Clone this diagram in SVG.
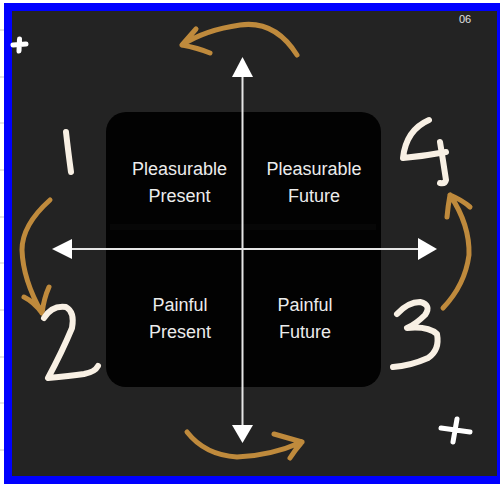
<svg xmlns="http://www.w3.org/2000/svg" width="500" height="484" viewBox="0 0 500 484">
<defs>
<style>
.lbl{font-family:"Liberation Sans",Arial,sans-serif;font-size:18px;fill:#ececec;text-anchor:middle}
.gold{fill:none;stroke:#bf8a3c;stroke-width:5;stroke-linecap:round;stroke-linejoin:round}
.hand{fill:none;stroke:#f8f0e4;stroke-width:6;stroke-linecap:round;stroke-linejoin:round}
.plus{fill:none;stroke:#ffffff;stroke-width:5;stroke-linecap:round}
.axis{stroke:#e6e6e6;stroke-width:2;fill:none}
.tip{fill:#ffffff}
.grid{stroke:#c8c8c8;stroke-width:1}
</style>
</defs>
<rect x="0" y="0" width="500" height="484" fill="#ffffff"/>
<g id="page-grid">
<line class="grid" x1="0" y1="30" x2="4" y2="30"/>
<line class="grid" x1="0" y1="77" x2="4" y2="77"/>
<line class="grid" x1="0" y1="123" x2="4" y2="123"/>
<line class="grid" x1="0" y1="170" x2="4" y2="170"/>
<line class="grid" x1="0" y1="217" x2="4" y2="217"/>
<line class="grid" x1="0" y1="263" x2="4" y2="263"/>
<line class="grid" x1="0" y1="310" x2="4" y2="310"/>
<line class="grid" x1="0" y1="357" x2="4" y2="357"/>
<line class="grid" x1="0" y1="403" x2="4" y2="403"/>
<line class="grid" x1="0" y1="450" x2="4" y2="450"/>
</g>
<rect x="4" y="3" width="496" height="481" fill="#0000ff"/>
<rect x="12" y="11" width="485" height="465" fill="#232323"/>
<text x="465" y="23" font-family="Liberation Sans,Arial,sans-serif" font-size="11" fill="#e0e0e0" text-anchor="middle">06</text>

<g id="quadrant-box">
<rect x="106" y="112" width="275" height="275" rx="20" fill="#020202"/>
<rect x="110" y="224" width="266" height="6" fill="#070707"/>
</g>

<g id="connectors">
<line class="axis" x1="242.5" y1="75" x2="242.5" y2="427"/>
<polygon class="tip" points="242.5,57 253,77 232,77"/>
<polygon class="tip" points="242.5,443 253,425 232,425"/>
<line class="axis" x1="70" y1="249" x2="420" y2="249"/>
<polygon class="tip" points="52,249 72,239 72,259"/>
<polygon class="tip" points="437,249 418,238 418,260"/>
<path class="gold" d="M297,55 Q275,20 240,25 Q205,30 182,45 M182,45 L196,29 M182,45 Q198,48 210,53"/>
<path class="gold" d="M50,200 Q22,225 22,250 Q23,280 42,313 M42,313 Q34,302 24,297 M42,313 Q44,298 49,287"/>
<path class="gold" d="M443,308 Q465,285 469,255 Q470,225 450,195 M450,195 Q448,206 447,217 M450,195 Q462,200 470,207"/>
<path class="gold" d="M187,432 Q205,455 237,457 Q270,456 302,442 M302,442 L274,434 M302,442 Q295,450 290,458"/>
</g>

<g id="q-pleasurable-present">
<text class="lbl" x="179.5" y="175">Pleasurable</text>
<text class="lbl" x="179.5" y="202">Present</text>
</g>
<g id="q-pleasurable-future">
<text class="lbl" x="314" y="175">Pleasurable</text>
<text class="lbl" x="314" y="202">Future</text>
</g>
<g id="q-painful-present">
<text class="lbl" x="180" y="311">Painful</text>
<text class="lbl" x="180" y="338">Present</text>
</g>
<g id="q-painful-future">
<text class="lbl" x="305" y="311">Painful</text>
<text class="lbl" x="305" y="338">Future</text>
</g>

<g id="num-1"><path class="hand" d="M66,132 Q68,150 71,172"/></g>
<g id="num-2"><path class="hand" d="M44,318 Q52,305 66,307 Q75,312 72,328 Q62,352 48,378 Q70,376 84,374 Q95,372 98,366"/></g>
<g id="num-3"><path class="hand" d="M397,314 Q408,302 420,302 Q432,305 425,315 Q416,324 407,328 Q428,326 437,334 Q440,350 428,358 Q410,366 393,367"/></g>
<g id="num-4"><path class="hand" d="M429,120 Q406,130 403,158 Q425,156 446,152 M440,142 Q443,160 446,180 Q445,184 440,183"/></g>

<g id="plus-marks">
<path class="plus" d="M13,45 L26,44 M19.5,39 L19,51"/>
<path class="plus" d="M441,428 L470,432 M457,419 L453,442"/>
</g>
</svg>
